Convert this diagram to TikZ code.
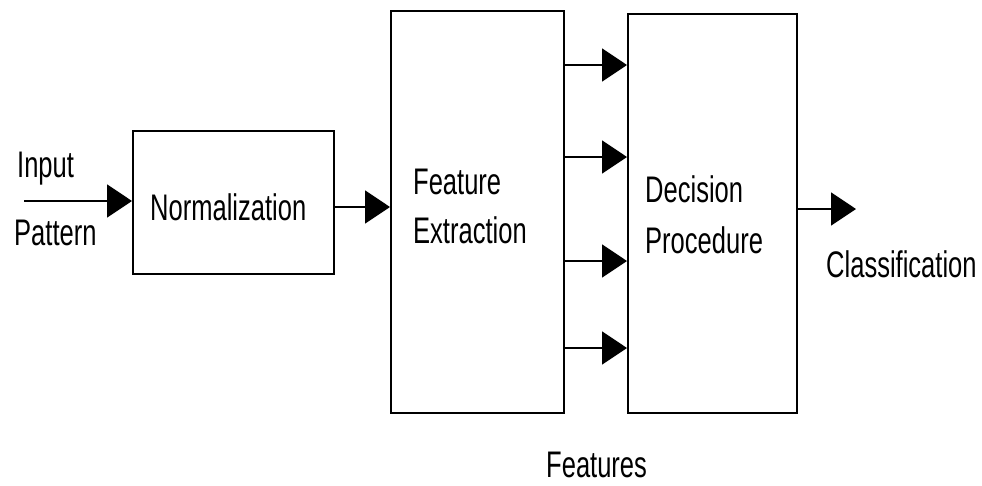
\documentclass[tikz,border=0pt]{standalone}
\usepackage{fontspec}
\setmainfont[FakeStretch=0.69]{Liberation Sans}
\usetikzlibrary{arrows.meta}
\begin{document}
\begin{tikzpicture}[x=1pt,y=-1pt,
  box/.style={draw,line width=2pt,inner sep=0pt},
  lbl/.style={anchor=base west,inner sep=0pt,font=\fontsize{37}{44}\selectfont},
  arr/.style={line width=2pt,-{Triangle[length=25pt,width=33pt]}}]
\useasboundingbox[fill=white] (0,0) rectangle (982,485);
% boxes
\node[box,minimum width=201pt,minimum height=143pt] (norm) at (233.5,202.5) {};
\node[box,minimum width=173pt,minimum height=402pt] (fe) at (477.5,212) {};
\node[box,minimum width=169pt,minimum height=399pt] (dp) at (712.5,213.5) {};
% texts
\node[lbl] (tinput) at (17,177) {Input};
\node[lbl] (tpattern) at (14,245) {Pattern};
\node[lbl] (tnorm) at (150,220) {Normalization};
\node[lbl] (tfeat) at (413,194) {Feature};
\node[lbl] (textr) at (413,243) {Extraction};
\node[lbl] (tdec) at (645,202) {Decision};
\node[lbl] (tproc) at (645,253) {Procedure};
\node[lbl] (tclass) at (826,277) {Classification};
\node[lbl] (tfeatures) at (546,477) {Features};
% connectors
\coordinate (in) at (24,201);
\coordinate (out) at (856,209);
\draw[arr] (in) -- (in -| norm.west);
\draw[arr] (norm.east |- 0,207) -- (fe.west |- 0,207);
\foreach \yy in {65,157,261,348}
  \draw[arr] (fe.east |- 0,\yy) -- (dp.west |- 0,\yy);
\draw[arr] (dp.east |- out) -- (out);
\end{tikzpicture}
\end{document}
